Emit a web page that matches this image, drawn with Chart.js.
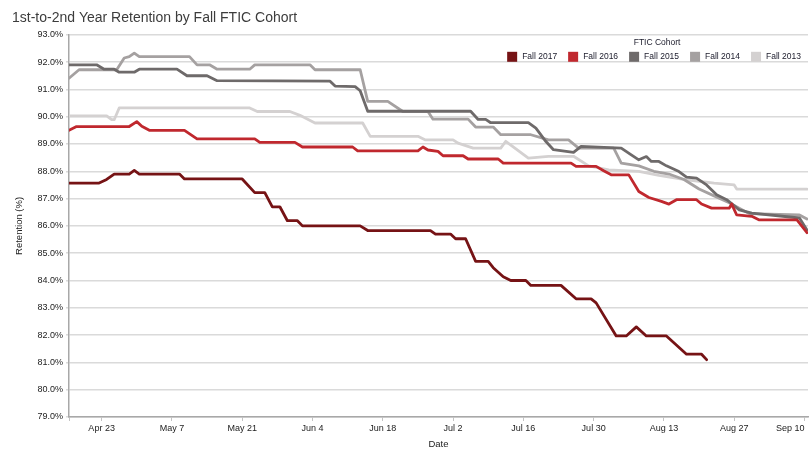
<!DOCTYPE html>
<html>
<head>
<meta charset="utf-8">
<script src="https://cdn.jsdelivr.net/npm/chart.js@4.4.0/dist/chart.umd.min.js"></script>
<style>
  html, body { margin: 0; padding: 0; background: #fff; }
</style>
</head>
<body>
<canvas id="retentionChart" width="809" height="450"></canvas>
<script>
// x values are days after Apr 16
const dateTickDays = [7, 21, 35, 49, 63, 77, 91, 105, 119, 133, 147]
const dateTickLabels = ['Apr 23', 'May 7', 'May 21', 'Jun 4', 'Jun 18', 'Jul 2', 'Jul 16', 'Jul 30', 'Aug 13', 'Aug 27', 'Sep 10']

const fall2017Days = [0.5, 6.5, 8, 9.5, 12.5, 13.5, 14.5, 22.5, 23.5, 35, 37.5, 39.5, 41, 42.5, 44, 46, 47, 58.5, 60, 72.5, 73.5, 76.5, 77.5, 79.5, 81.5, 84, 85, 87, 88.5, 91.5, 92.5, 98.5, 101.5, 104.5, 105.5, 109.5, 111.5, 113.5, 115.5, 119.5, 123.5, 126.5, 127.5]
const fall2017Ret = [87.57, 87.57, 87.7, 87.9, 87.9, 88.03, 87.9, 87.9, 87.72, 87.72, 87.22, 87.22, 86.7, 86.7, 86.19, 86.19, 86.0, 86.0, 85.83, 85.83, 85.7, 85.7, 85.53, 85.53, 84.7, 84.7, 84.47, 84.14, 84.0, 84.0, 83.82, 83.82, 83.33, 83.33, 83.18, 81.97, 81.97, 82.3, 81.97, 81.97, 81.3, 81.3, 81.1]

const fall2016Days = [0.5, 2, 12.5, 14, 15, 16.5, 23.5, 26, 37.5, 38.5, 45.5, 47, 57, 58, 70, 71, 72, 74, 75, 79, 80, 86, 87, 100.5, 101.5, 105.5, 107, 108.5, 112, 114, 116, 118.5, 120, 121.5, 125.5, 126.5, 128.5, 132, 132.5, 133.5, 136.5, 138, 145.5, 147.5]
const fall2016Ret = [89.5, 89.64, 89.64, 89.82, 89.65, 89.5, 89.5, 89.19, 89.19, 89.06, 89.06, 88.89, 88.89, 88.75, 88.75, 88.89, 88.78, 88.73, 88.57, 88.57, 88.45, 88.45, 88.3, 88.3, 88.18, 88.18, 88.02, 87.87, 87.87, 87.26, 87.04, 86.9, 86.8, 86.96, 86.96, 86.8, 86.65, 86.65, 86.8, 86.4, 86.35, 86.22, 86.22, 85.75]

const fall2015Days = [0.5, 6, 7.5, 9.5, 10.5, 13.5, 14.5, 22, 24, 28, 30, 52.5, 53.5, 57.5, 58.5, 60, 80.5, 82, 83.5, 84.5, 92, 93.5, 95.5, 97, 101, 102.5, 110.5, 112.5, 114, 115.5, 116.5, 118, 119.5, 122, 123.5, 125.5, 127.5, 129.5, 131.5, 134, 136.5, 146, 147.5]
const fall2015Ret = [91.9, 91.9, 91.74, 91.74, 91.63, 91.63, 91.74, 91.74, 91.5, 91.5, 91.32, 91.3, 91.12, 91.1, 90.95, 90.2, 90.2, 89.9, 89.9, 89.78, 89.78, 89.58, 89.09, 88.79, 88.69, 88.91, 88.85, 88.6, 88.42, 88.54, 88.36, 88.36, 88.2, 87.99, 87.79, 87.75, 87.5, 87.14, 86.96, 86.59, 86.47, 86.29, 85.85]

const fall2014Days = [0.5, 2.5, 10, 11.5, 12.5, 13.5, 14.5, 24.5, 26, 28.5, 30, 36.5, 37.5, 48.5, 49.5, 58.5, 60, 64, 67, 72, 73, 80, 81.5, 85, 86.5, 92.5, 96, 100, 102, 109, 110.5, 114, 117, 120, 123, 126, 129, 132, 134, 136, 146, 147.5]
const fall2014Ret = [91.41, 91.72, 91.72, 92.15, 92.2, 92.33, 92.2, 92.2, 91.9, 91.9, 91.74, 91.74, 91.9, 91.9, 91.72, 91.72, 90.56, 90.56, 90.19, 90.19, 89.91, 89.91, 89.62, 89.62, 89.34, 89.34, 89.15, 89.15, 88.85, 88.85, 88.3, 88.2, 88.0, 87.9, 87.7, 87.35, 87.1, 86.85, 86.65, 86.45, 86.4, 86.25]

const fall2013Days = [0.5, 8, 9, 9.5, 10.5, 36.5, 38, 44.5, 46.5, 49.5, 59, 60.5, 70, 71.5, 77, 78, 81, 86.5, 87.5, 92, 96, 101, 104, 108, 114, 118, 123.5, 129, 133, 133.5, 147.5]
const fall2013Ret = [90.03, 90.03, 89.89, 89.89, 90.32, 90.32, 90.19, 90.19, 90.05, 89.77, 89.77, 89.28, 89.28, 89.15, 89.15, 89.03, 88.85, 88.85, 89.1, 88.48, 88.55, 88.55, 88.2, 88.05, 88.0, 87.85, 87.69, 87.57, 87.5, 87.35, 87.35]

const FONT = "'Liberation Sans', Arial, sans-serif"
Chart.defaults.font.family = FONT
Chart.defaults.color = '#222'

const toPoints = (days, values) => days.map((d, i) => ({ x: d, y: values[i] }))

const cohorts = [
    { label: 'Fall 2017', data: toPoints(fall2017Days, fall2017Ret), color: '#761315' },
    { label: 'Fall 2016', data: toPoints(fall2016Days, fall2016Ret), color: '#c0282e' },
    { label: 'Fall 2015', data: toPoints(fall2015Days, fall2015Ret), color: '#6e6a6a' },
    { label: 'Fall 2014', data: toPoints(fall2014Days, fall2014Ret), color: '#a5a1a1' },
    { label: 'Fall 2013', data: toPoints(fall2013Days, fall2013Ret), color: '#d4d1d1' },
]

// legend sits inside the plot, top right
const cohortLegend = {
    id: 'cohortLegend',
    afterDraw(chart) {
        const ctx = chart.ctx
        const area = chart.chartArea
        const box = 10, gap = 5, space = 11
        ctx.save()
        ctx.font = `8.5px ${FONT}`
        ctx.textBaseline = 'middle'
        const items = chart.data.datasets.map(ds => ({
            text: ds.label,
            color: ds.borderColor,
            w: ctx.measureText(ds.label).width
        }))
        let total = 0
        items.forEach(it => { total += box + gap + it.w })
        total += space * (items.length - 1)
        let x = area.right - 7 - total
        const y = area.top + 22

        ctx.fillStyle = '#1a1a2a'
        ctx.textAlign = 'center'
        ctx.fillText('FTIC Cohort', x + total / 2 + 3, area.top + 8)

        ctx.textAlign = 'left'
        items.forEach(it => {
            ctx.fillStyle = it.color
            ctx.fillRect(x, y - box / 2, box, box)
            ctx.fillStyle = '#1a1a2a'
            ctx.fillText(it.text, x + box + gap, y)
            x += box + gap + it.w + space
        })
        ctx.restore()
    }
}

const ctx = document.getElementById('retentionChart').getContext('2d')
const retentionChart = new Chart(ctx, {
    type: 'line',
    data: {
        datasets: cohorts.map(c => ({
            label: c.label,
            data: c.data,
            borderColor: c.color,
            backgroundColor: c.color,
            borderWidth: 2.8,
            pointRadius: 0,
            tension: 0,
            borderJoinStyle: 'round',
            borderCapStyle: 'round',
        }))
    },
    options: {
        responsive: false,
        animation: false,
        layout: { padding: { left: 12, right: 1, top: 0, bottom: 0 } },
        plugins: {
            legend: { display: false },
            tooltip: { enabled: false },
            title: {
                display: true,
                text: '1st-to-2nd Year Retention by Fall FTIC Cohort',
                align: 'start',
                color: '#3c3c3c',
                font: { size: 14, weight: 'normal' },
                padding: { top: 10, bottom: 8 },
            },
        },
        scales: {
            x: {
                type: 'linear',
                min: 0.5,
                max: 147.7,
                afterBuildTicks: (scale) => {
                    scale.ticks = [{ value: scale.min }].concat(dateTickDays.map(v => ({ value: v })))
                },
                afterFit: (scale) => {
                    scale.height = 33
                    scale.paddingLeft = 0
                    scale.paddingRight = 0
                },
                ticks: {
                    autoSkip: false,
                    maxRotation: 0,
                    align: 'inner',
                    padding: 2,
                    color: '#222',
                    font: { size: 9 },
                    callback: (value) => {
                        const i = dateTickDays.indexOf(value)
                        return i >= 0 ? dateTickLabels[i] : ''
                    }
                },
                grid: { drawOnChartArea: false, drawTicks: true, tickLength: 4, color: '#c4c4c4' },
                border: { color: '#a8a8a8', width: 1.5 },
                title: { display: true, text: 'Date', color: '#222', font: { size: 9.5 }, padding: { top: 0, bottom: 0 } },
            },
            y: {
                min: 79,
                max: 93,
                afterFit: (scale) => { scale.width = 57 },
                ticks: {
                    stepSize: 1,
                    autoSkip: false,
                    padding: 3,
                    color: '#222',
                    font: { size: 9 },
                    callback: (v) => v.toFixed(1) + '%'
                },
                grid: { color: '#dadada', lineWidth: 1.5, tickLength: 3 },
                border: { color: '#a8a8a8', width: 1.5 },
                title: { display: true, text: 'Retention (%)', color: '#222', font: { size: 9.5 }, padding: { top: 2, bottom: 0 } },
            }
        }
    },
    plugins: [cohortLegend]
})
</script>
</body>
</html>
